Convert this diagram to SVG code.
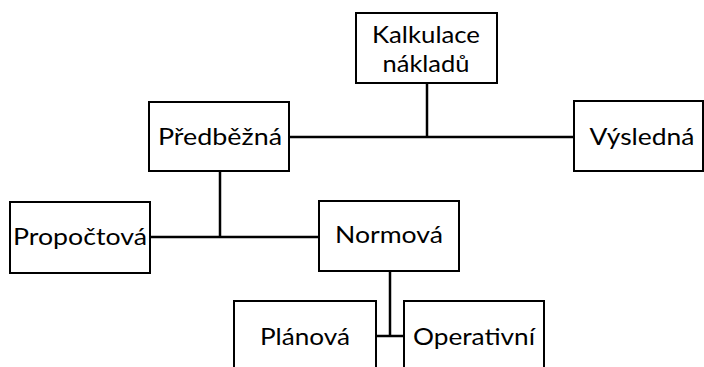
<svg xmlns="http://www.w3.org/2000/svg" width="704" height="367" viewBox="0 0 704 367">
<style>
rect{fill:#fff;stroke:#000;stroke-width:2}
line{stroke:#000;stroke-width:2.5}
text{font-family:Lato,"Liberation Sans",sans-serif;font-size:24px;fill:#000;text-anchor:middle}
</style>
<rect x="0" y="0" width="704" height="367" style="stroke:none"/>
<g id="connectors">
<line x1="427" y1="83" x2="427" y2="137"/>
<line x1="289" y1="137" x2="574" y2="137"/>
<line x1="220" y1="171" x2="220" y2="237"/>
<line x1="150" y1="237" x2="319" y2="237"/>
<line x1="390" y1="271" x2="390" y2="336"/>
<line x1="376" y1="336" x2="404" y2="336"/>
</g>
<g id="kalkulace"><rect x="356" y="13" width="141" height="70"/>
<text x="426" y="43" textLength="108" lengthAdjust="spacingAndGlyphs">Kalkulace</text>
<text x="426" y="72" textLength="87" lengthAdjust="spacingAndGlyphs">nákladů</text></g>
<g id="predbezna"><rect x="149" y="102" width="140" height="69"/>
<text x="220" y="145" textLength="124" lengthAdjust="spacingAndGlyphs">Předběžná</text></g>
<g id="vysledna"><rect x="574" y="101" width="129" height="70"/>
<text x="642" y="145" textLength="105" lengthAdjust="spacingAndGlyphs">Výsledná</text></g>
<g id="propoctova"><rect x="10" y="202" width="140" height="71"/>
<text x="80" y="245" textLength="134" lengthAdjust="spacingAndGlyphs">Propočtová</text></g>
<g id="normova"><rect x="319" y="201" width="140" height="70"/>
<text x="389" y="243" textLength="108" lengthAdjust="spacingAndGlyphs">Normová</text></g>
<g id="planova"><rect x="234" y="301" width="142" height="75"/>
<text x="305" y="345" textLength="90" lengthAdjust="spacingAndGlyphs">Plánová</text></g>
<g id="operativni"><rect x="404" y="301" width="140" height="75"/>
<text x="474" y="345" textLength="122" lengthAdjust="spacingAndGlyphs">Operativní</text></g>
</svg>
